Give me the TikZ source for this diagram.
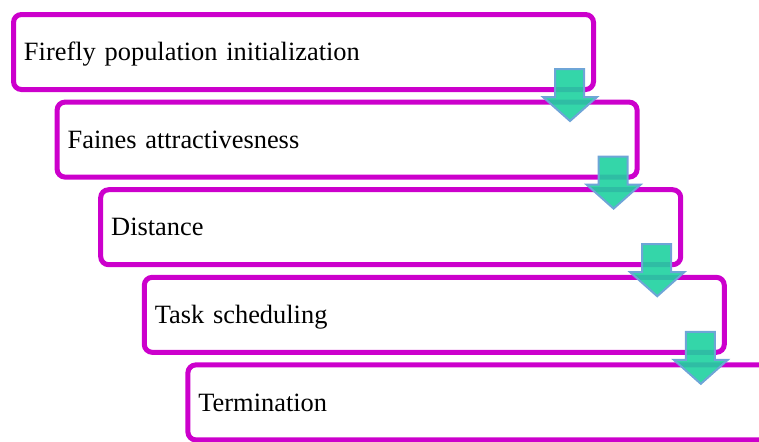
\documentclass[tikz,border=0pt]{standalone}
\usepackage{fontspec}
\setmainfont{Liberation Serif}
\usetikzlibrary{positioning}
\definecolor{boxmagenta}{RGB}{204,0,204}
\definecolor{arrowteal}{RGB}{30,210,160}
\definecolor{arrowblue}{RGB}{110,165,215}
\tikzset{
  stage/.style={
    draw=boxmagenta, line width=2.5pt, rounded corners=4pt,
    outer sep=0pt, inner xsep=5.25pt, inner ysep=0pt,
    text width=279.5pt, text height=8.6pt, text depth=0pt,
    minimum height=37.5pt, align=left,
    anchor=north west, font=\fontsize{13.2}{16}\selectfont
  },
  flowarrow/.style={draw=arrowblue, line width=1pt, fill=arrowteal, fill opacity=0.9, line join=miter}
}

\begin{document}
\begin{tikzpicture}[x=0.5pt, y=-0.5pt]
\useasboundingbox (0,0) rectangle (759,441);

% Stages
\node[stage] (init) at (13.5,14.5) {Firefly population initialization};
\node[stage] (fair) at ([shift={(43.6,87.6)}]init.north west) {Faines attractivesness};
\node[stage] (dist) at ([shift={(43.6,87.6)}]fair.north west) {Distance};
\node[stage] (task) at ([shift={(43.6,87.6)}]dist.north west) {Task scheduling};
\node[stage] (term) at ([shift={(43.6,87.6)}]task.north west) {Termination};

% Arrows
\foreach \from in {init,fair,dist,task}
  \draw[flowarrow, shift={(\from.north east)}]
    (-38.5,54.5) -- (-9.5,54.5) -- (-9.5,82.5) -- (3.5,82.5)
    -- (-23.5,106.5) -- (-50.5,82.5) -- (-38.5,82.5) -- cycle;

\end{tikzpicture}
\end{document}
